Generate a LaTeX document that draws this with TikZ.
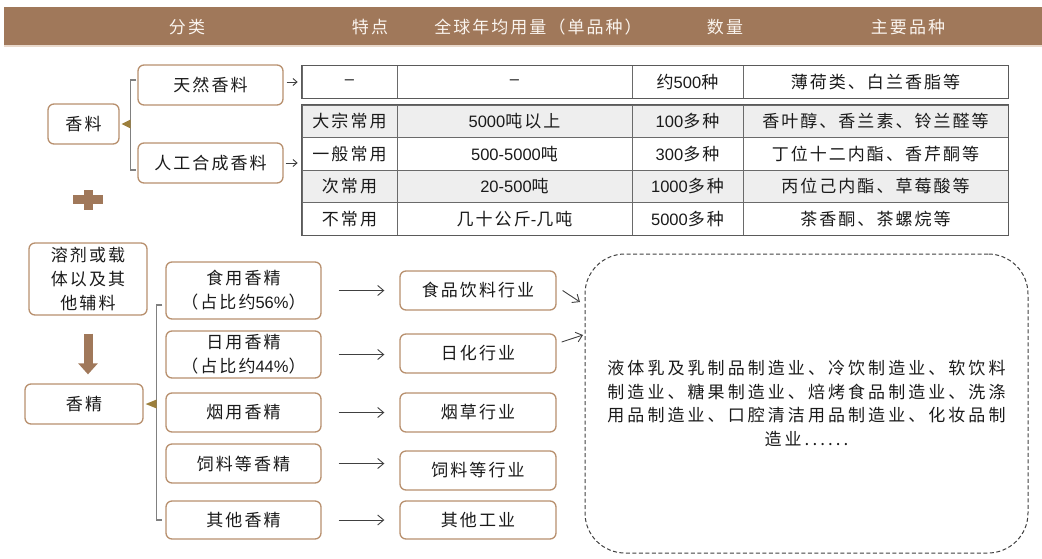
\documentclass[tikz,border=0pt]{standalone}
\usepackage{fontspec}
\setmainfont{Noto Sans CJK SC}[LetterSpace=12]
\newfontfamily\lat{Liberation Sans}
\newfontfamily\wide{Noto Sans CJK SC}[LetterSpace=18]
\usetikzlibrary{arrows.meta,calc}
\definecolor{hdr}{HTML}{A0785A}
\definecolor{hdrline}{HTML}{E9D9CC}
\definecolor{hdrtxt}{HTML}{FAF4EE}
\definecolor{boxc}{HTML}{B8906E}
\definecolor{tric}{HTML}{9C7F3C}
\definecolor{brkc}{HTML}{808080}
\definecolor{txt}{HTML}{1A1A1A}
\definecolor{grayrow}{HTML}{EEEEEE}
\definecolor{tabc}{HTML}{6A6A6A}
\definecolor{arrc}{HTML}{404040}
\newcommand\dg[1]{{\lat\fontsize{16.5}{18}\selectfont #1}}
\begin{document}
\begin{tikzpicture}[x=1pt,y=-1pt,
  every node/.style={text=txt, font=\fontsize{17}{24}\selectfont, inner sep=0pt},
  rbox/.style={draw=boxc, line width=1.3pt, rounded corners=6pt, fill=white, align=center},
  cell/.style={draw=tabc, line width=0.8pt, minimum height=32.5pt},
  c0/.style={cell, minimum width=95pt},
  c1/.style={cell, minimum width=235pt},
  c2/.style={cell, minimum width=111pt},
  c3/.style={cell, minimum width=265pt},
  gr/.style={fill=grayrow},
  tabout/.style={draw=tabc!85!black, line width=1.5pt},
  htext/.style={text=hdrtxt},
  arr/.style={draw=arrc, line width=0.9pt, -{Straight Barb[length=6pt,width=10pt]}},
  sarr/.style={draw=arrc, line width=0.9pt, -{Straight Barb[length=4pt,width=7pt]}},
  brk/.style={draw=brkc, line width=1.3pt},
  tri/.style={fill=tric},
  fat/.style={draw=hdr, line width=9pt, -{Triangle[length=11pt,width=19pt]}}
]
\useasboundingbox (0,0) rectangle (1042,558);

% header
\node[fill=hdr, minimum width=1038pt, minimum height=38pt, anchor=north west] (hbar) at (4,7) {};
\fill[hdrline] (hbar.south west) rectangle ++(1038,2);
\node[htext] (h1) at (187,27) {分类};
\node[htext] (h2) at (370,27) {特点};
\node[htext] (h3) at (538,27) {全球年均用量（单品种）};
\node[htext] (h4) at (725,27) {数量};
\node[htext] (h5) at (908,27) {主要品种};

% table row 0
\node[c0] (t00) at (349.5,82) {\dg{–}};
\node[c1] (t01) at (514.5,82) {\dg{–}};
\node[c2] (t02) at (687.5,82) {约\dg{500}种};
\node[c3] (t03) at (875.5,82) {薄荷类、白兰香脂等};
\draw[tabout] (t00.north west) rectangle (t03.south east);

% table rows 1-4
\node[c0,gr] (t10) at (349.5,121.25) {大宗常用};
\node[c1,gr] (t11) at (514.5,121.25) {\dg{5000}吨以上};
\node[c2,gr] (t12) at (687.5,121.25) {\dg{100}多种};
\node[c3,gr] (t13) at (875.5,121.25) {香叶醇、香兰素、铃兰醛等};
\node[c0] (t20) at (349.5,153.75) {一般常用};
\node[c1] (t21) at (514.5,153.75) {\dg{500-5000}吨};
\node[c2] (t22) at (687.5,153.75) {\dg{300}多种};
\node[c3] (t23) at (875.5,153.75) {丁位十二内酯、香芹酮等};
\node[c0,gr] (t30) at (349.5,186.25) {次常用};
\node[c1,gr] (t31) at (514.5,186.25) {\dg{20-500}吨};
\node[c2,gr] (t32) at (687.5,186.25) {\dg{1000}多种};
\node[c3,gr] (t33) at (875.5,186.25) {丙位己内酯、草莓酸等};
\node[c0] (t40) at (349.5,218.75) {不常用};
\node[c1] (t41) at (514.5,218.75) {几十公斤\dg{-}几吨};
\node[c2] (t42) at (687.5,218.75) {\dg{5000}多种};
\node[c3] (t43) at (875.5,218.75) {茶香酮、茶螺烷等};
\draw[tabout] (t10.north west) rectangle (t43.south east);

% top tree
\node[rbox, minimum width=71pt, minimum height=40pt] (xl) at (83.5,124) {香料};
\node[rbox, minimum width=145pt, minimum height=40pt] (tr) at (210.5,85) {天然香料};
\node[rbox, minimum width=145pt, minimum height=40pt] (rg) at (210.5,163) {人工合成香料};
\draw[brk] ([xshift=-1,yshift=5]tr.west) -| ($(xl.east)+(11,0)$) |- ([xshift=-1,yshift=-7]rg.west);
\fill[tri] ([xshift=2]xl.east) -- ++(9,-4.5) -- ++(0,9) -- cycle;
\draw[sarr] ([xshift=3,yshift=3]tr.east) -- ++(11,0);
\draw[sarr] ([xshift=2]rg.east) -- ++(12,0);

% plus sign
\fill[hdr] (73,194.5) rectangle (103,203.5);
\fill[hdr] (83.5,190) rectangle (92.5,210);

% bottom tree
\node[rbox, minimum width=118pt, minimum height=72pt] (solv) at (88,279) {溶剂或载\\体以及其\\他辅料};
\node[rbox, minimum width=118pt, minimum height=40pt] (xj) at (84,404) {香精};
\draw[fat, shorten <=18pt, shorten >=9pt] (solv.south) -- (solv.south |- xj.north);

\node[rbox, minimum width=155pt, minimum height=57pt] (f1) at (243.5,290.5) {食用香精\\（占比约\dg{56\%}）};
\node[rbox, minimum width=155pt, minimum height=47pt] (f2) at (243.5,354.5) {日用香精\\（占比约\dg{44\%}）};
\node[rbox, minimum width=155pt, minimum height=39pt] (f3) at (243.5,412.5) {烟用香精};
\node[rbox, minimum width=155pt, minimum height=39pt] (f4) at (243.5,463.5) {饲料等香精};
\node[rbox, minimum width=155pt, minimum height=38pt] (f5) at (243.5,520) {其他香精};
\draw[brk] ([xshift=-3,yshift=-14.5]f1.west) -| ($(xj.east)+(13,0)$) |- ([xshift=-3]f5.west);
\fill[tri] ([xshift=2]xj.east) -- ++(11,-4.5) -- ++(0,9) -- cycle;

\node[rbox, minimum width=156pt, minimum height=39pt] (i1) at (478,290.5) {食品饮料行业};
\node[rbox, minimum width=156pt, minimum height=39pt] (i2) at (478,353.5) {日化行业};
\node[rbox, minimum width=156pt, minimum height=39pt] (i3) at (478,412.5) {烟草行业};
\node[rbox, minimum width=156pt, minimum height=39pt] (i4) at (478,470.5) {饲料等行业};
\node[rbox, minimum width=156pt, minimum height=38pt] (i5) at (478,520) {其他工业};

\foreach \k in {1,...,5}{
  \draw[arr, shorten <=17pt, shorten >=15pt] (f\k.east) -- (f\k.east -| i\k.west);
}

% dashed box
\node[draw=arrc, line width=1pt, dash pattern=on 4pt off 2.5pt, rounded corners=40pt,
      minimum width=443pt, minimum height=299pt, text width=400pt, align=center,
      font=\wide\fontsize{17}{23.5}\selectfont] (dd) at (806.5,403.5)
  {液体乳及乳制品制造业、冷饮制造业、软饮料\\制造业、糖果制造业、焙烤食品制造业、洗涤\\用品制造业、口腔清洁用品制造业、化妆品制\\造业......};
\coordinate (d1) at (580,302);
\coordinate (d2) at (583,335);
\draw[arr] ([xshift=6]i1.east) -- (d1);
\draw[arr] ([xshift=5,yshift=11.5]i2.east) -- (d2);
\end{tikzpicture}
\end{document}
